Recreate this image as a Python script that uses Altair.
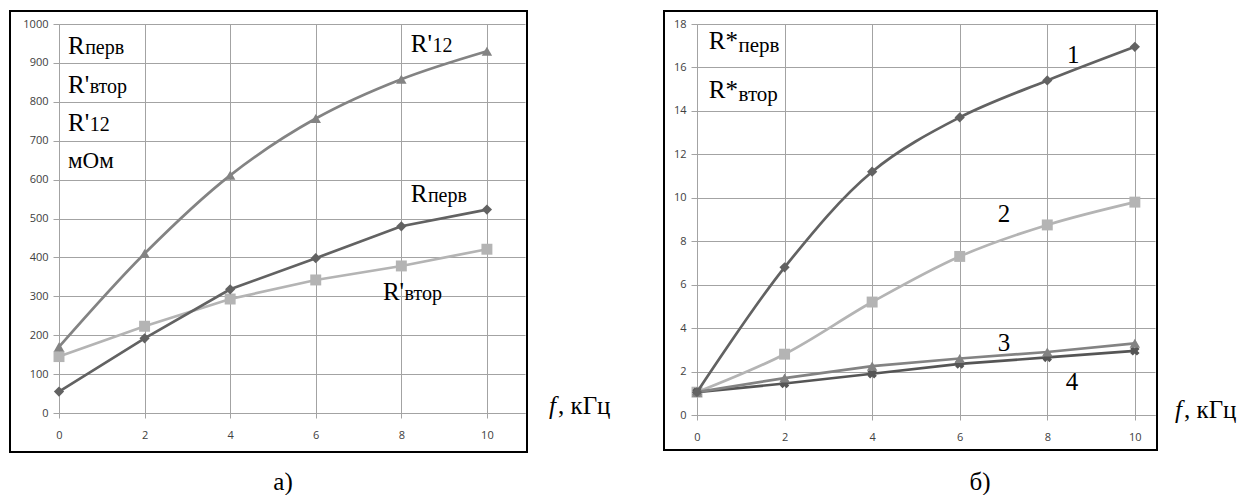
import altair as alt
import pandas as pd

# ---------------- data ----------------
freq = [0, 2, 4, 6, 8, 10]

# panel a) (mOhm)
r_perv = [55, 192, 318, 398, 480, 523]
r_vtor = [145, 223, 293, 342, 378, 421]
r_12 = [170, 410, 611, 757, 858, 930]

# panel б) (relative)
s1 = [1.05, 6.8, 11.2, 13.7, 15.4, 16.95]
s2 = [1.05, 2.8, 5.2, 7.3, 8.75, 9.8]
s3 = [1.05, 1.7, 2.25, 2.6, 2.9, 3.3]
s4 = [1.05, 1.45, 1.9, 2.35, 2.65, 2.95]

x_ticks = [0, 2, 4, 6, 8, 10]
left_y_ticks = list(range(0, 1001, 100))
right_y_ticks = list(range(0, 19, 2))

# ---------------- style ----------------
W1, H1 = 466, 389
W2, H2 = 458, 391
X1_MAX = 10.89
X2_MAX = 10.46
SERIF = "Liberation Serif, DejaVu Serif, serif"
TICK_FONT = "Open Sans"
GRID = "#a3a3a3"
LBL = "#404040"
DARK = "#626262"
MID = "#838383"
LIGHT = "#b4b4b4"
DARKER = "#555555"

CHAR_W = {"R": 0.667, "'": 0.18, "*": 0.5}


def x_enc(xmax):
    return alt.X(
        "f:Q",
        scale=alt.Scale(domain=[0, xmax], nice=False, zero=False),
        axis=alt.Axis(values=x_ticks, title=None, grid=True, gridColor=GRID,
                      domainColor=GRID, tickColor=GRID, tickSize=5, format="d",
                      labelPadding=11, labelFont=TICK_FONT, labelFontSize=11,
                      labelColor=LBL, labelFlush=False),
    )


def y_enc(field, ymax, ticks):
    return alt.Y(
        field + ":Q",
        scale=alt.Scale(domain=[0, ymax], nice=False),
        axis=alt.Axis(values=ticks, title=None, grid=True, gridColor=GRID,
                      domainColor=GRID, tickColor=GRID, tickSize=6, format="d",
                      labelPadding=5, labelFont=TICK_FONT, labelFontSize=11,
                      labelColor=LBL, labelFlush=False),
    )


def series(df, field, xmax, ymax, ticks, color, shape, size, interp, angle=0):
    base = alt.Chart(df).encode(x=x_enc(xmax), y=y_enc(field, ymax, ticks))
    line = base.mark_line(color=color, strokeWidth=2.7, interpolate=interp)
    pts = base.mark_point(shape=shape, filled=True, color=color, size=size,
                          opacity=1, angle=angle)
    return [line, pts]


def label(xmax, ymax, ticks, x, y, main, sub, main_size, sub_size, sub_dy):
    d = pd.DataFrame({"f": [x], "v": [y]})
    enc = dict(x=x_enc(xmax), y=y_enc("v", ymax, ticks))
    layers = [alt.Chart(d).mark_text(text=main, font=SERIF, fontSize=main_size,
                                     align="left", baseline="alphabetic",
                                     color="black").encode(**enc)]
    if sub:
        dx = sum(CHAR_W.get(c, 0.5) for c in main) * main_size + 0.5
        layers.append(alt.Chart(d).mark_text(text=sub, font=SERIF, fontSize=sub_size,
                                             align="left", baseline="alphabetic",
                                             dx=dx, dy=sub_dy,
                                             color="black").encode(**enc))
    return layers


def pixel_text(txt, px, py, size, italic=False, align="left", dx=0):
    return alt.Chart(pd.DataFrame({"a": [0]})).mark_text(
        text=txt, font=SERIF, fontSize=size, align=align, baseline="alphabetic",
        fontStyle="italic" if italic else "normal", color="black", dx=dx,
    ).encode(x=alt.value(px), y=alt.value(py))


def frame(x0, x1, y0, y1):
    return alt.Chart(pd.DataFrame({"a": [0]})).mark_rect(
        fill="white", fillOpacity=0, stroke="black", strokeWidth=2
    ).encode(x=alt.value(x0), x2=alt.value(x1), y=alt.value(y0), y2=alt.value(y1))


# ---------------- panel a) ----------------
left_df = pd.DataFrame({"f": freq, "r_perv": r_perv, "r_vtor": r_vtor, "r_12": r_12})
L = (X1_MAX, 1000, left_y_ticks)
left_layers = [frame(-49, W1 + 2, -13, H1 + 39)]
left_layers += series(left_df, "r_vtor", *L, LIGHT, "square", 120, "linear")
left_layers += series(left_df, "r_12", *L, MID, "triangle-up", 110, "catmull-rom")
left_layers += series(left_df, "r_perv", *L, DARK, "diamond", 105, "linear")
left_layers += label(*L, 0.21, 923, "R", "перв", 25, 20, 0)
left_layers += label(*L, 0.21, 823, "R'", "втор", 25, 20, 0)
left_layers += label(*L, 0.21, 725, "R'", "12", 25, 20, 0)
left_layers += label(*L, 0.21, 630, "мОм", "", 23, 20, 0)
left_layers += label(*L, 8.22, 928, "R'", "12", 25, 20, 0)
left_layers += label(*L, 8.22, 543, "R", "перв", 25, 20, 0)
left_layers += label(*L, 7.57, 290, "R'", "втор", 25, 20, 0)
left_layers += [pixel_text("f", 490, 390, 25, italic=True),
                pixel_text(", кГц", 490, 390, 25, dx=9),
                pixel_text("а)", 224, 466, 25, align="center")]
left = alt.layer(*left_layers).properties(width=W1, height=H1)

# ---------------- panel б) ----------------
right_df = pd.DataFrame({"f": freq, "s1": s1, "s2": s2, "s3": s3, "s4": s4})
R = (X2_MAX, 18, right_y_ticks)
right_layers = [frame(-33, W2 + 2, -13, H2 + 35)]
right_layers += series(right_df, "s2", *R, LIGHT, "square", 120, "catmull-rom")
right_layers += series(right_df, "s4", *R, DARKER, "cross", 90, "linear", angle=45)
right_layers += series(right_df, "s3", *R, MID, "triangle-up", 110, "linear")
right_layers += series(right_df, "s1", *R, DARK, "diamond", 105, "catmull-rom")
right_layers += label(*R, 0.27, 16.85, "R*", "перв", 25, 21, 3)
right_layers += label(*R, 0.27, 14.6, "R*", "втор", 25, 21, 3)
right_layers += label(*R, 8.45, 16.2, "1", "", 25, 20, 0)
right_layers += label(*R, 6.87, 8.88, "2", "", 25, 20, 0)
right_layers += label(*R, 6.87, 2.94, "3", "", 25, 20, 0)
right_layers += label(*R, 8.42, 1.15, "4", "", 25, 20, 0)
right_layers += [pixel_text("f", 478, 394, 25, italic=True),
                 pixel_text(", кГц", 478, 394, 25, dx=9),
                 pixel_text("б)", 283, 466, 25, align="center")]
right = alt.layer(*right_layers).properties(width=W2, height=H2)

chart = (
    alt.hconcat(left, right, spacing=172, bounds="flush")
    .properties(padding={"left": 9, "top": 10, "right": 0, "bottom": 0},
                autosize=alt.AutoSizeParams(type="pad"))
    .configure_view(strokeWidth=0)
)

chart.save("out.html", embed_options={"renderer": "svg", "actions": False})
